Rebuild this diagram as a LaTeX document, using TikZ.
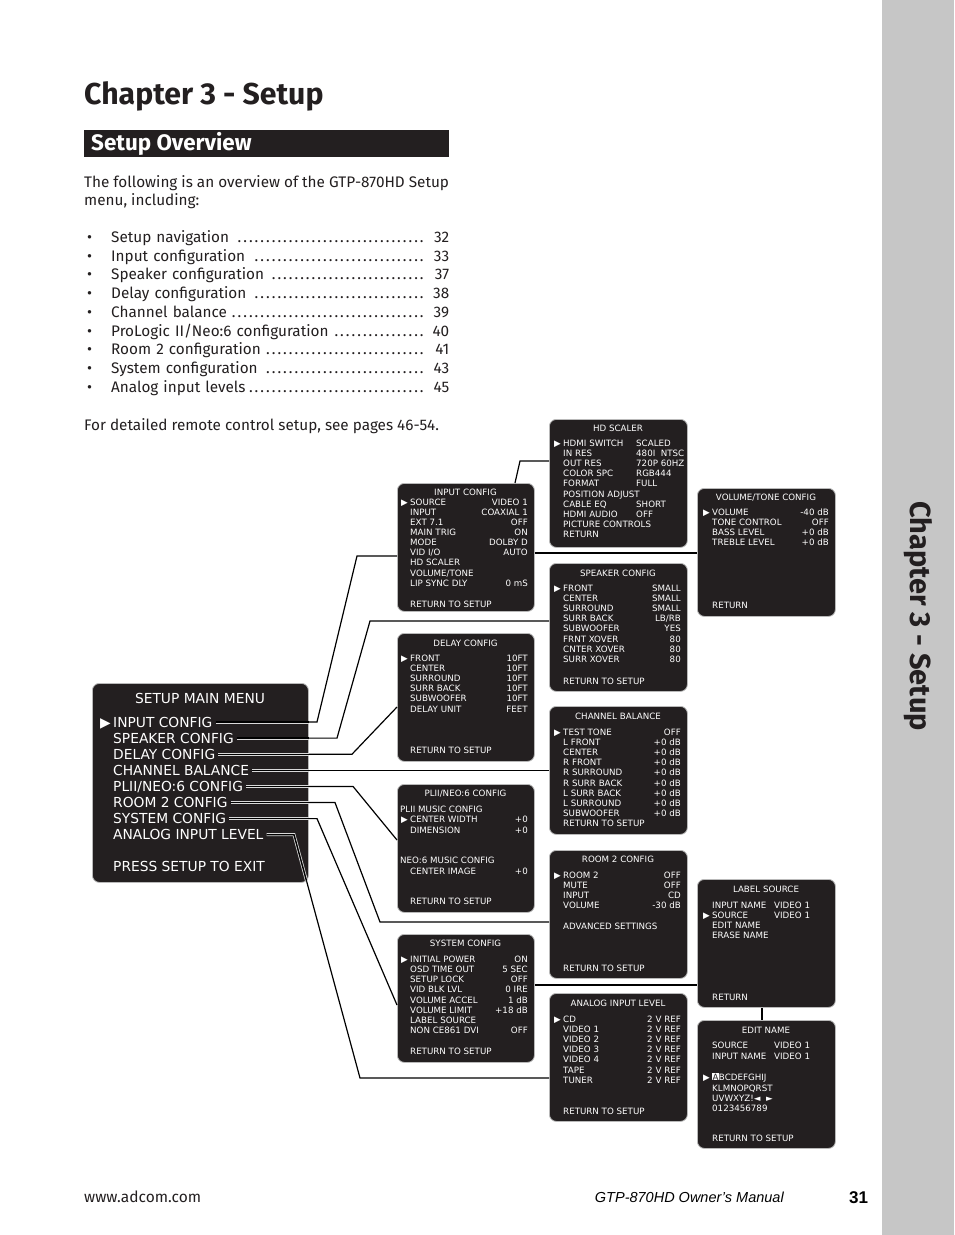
\documentclass[tikz,border=0pt]{standalone}
\usepackage{fontspec}
\setmainfont{Fira Sans}
\newfontfamily\menufont{DejaVu Sans}
\newfontfamily\footfont{Liberation Sans}
\usetikzlibrary{positioning}
\definecolor{boxblack}{HTML}{231F20}
\definecolor{inkblack}{HTML}{231F20}
\definecolor{tabgray}{HTML}{C6C6C6}
\newcommand{\selarrow}{\llap{▶\hspace{2.5pt}}}
\newcommand{\dotlead}{\leaders\hbox to 5.7pt{\hss.\hss}\hfill}
\newcommand{\hilite}[1]{{\fboxsep=0.4pt\colorbox{white}{\textcolor{boxblack}{#1}}}}
\tikzset{
  menubox/.style={
    rectangle,
    rounded corners=7pt,
    draw=gray!55,
    line width=0.8pt,
    fill=boxblack,
    inner sep=0pt,
    anchor=north west
  },
  mtitle/.style={
    text=white,
    font=\menufont\fontsize{8.7}{10}\selectfont,
    inner sep=0pt,
    anchor=base
  },
  mitem/.style={
    mtitle,
    anchor=base west
  },
  mval/.style={
    mtitle,
    anchor=base east
  },
  mainitem/.style={
    text=white,
    font=\menufont\fontsize{13.8}{16}\selectfont,
    inner sep=0pt,
    text height=10pt,
    text depth=0pt,
    anchor=base west
  },
  bodytext/.style={
    text=inkblack,
    font=\fontsize{15.3}{18}\selectfont,
    inner sep=0pt,
    anchor=base west
  },
  link/.style={
    draw=black,
    line width=1.2pt
  },
  dbllink/.style={
    draw=white!85!black,
    double=black,
    double distance=1.4pt,
    line width=0.8pt
  }
}

\begin{document}
\begin{tikzpicture}[x=1pt, y=-1pt]
\useasboundingbox (0,0) rectangle (954,1235);
\fill[white] (0,0) rectangle (954,1235);

% side tab
\fill[tabgray] (882,0) rectangle (954,1235);
\node[rotate=-90, inner sep=0pt, text=inkblack, font=\bfseries\fontsize{29}{29}\selectfont] (tabtitle) at (918,616) {Chapter 3 - Setup};

% heading and overview text
\node[anchor=base west, inner sep=0pt, text=inkblack, font=\bfseries\fontsize{30.2}{31}\selectfont] (chap) at (84,104) {Chapter 3 - Setup};
\node[anchor=north west, fill=boxblack, minimum width=365, minimum height=27, inner sep=0pt] (secbar) at (84,130) {};
\node[anchor=base west, inner sep=0pt, text=white, font=\bfseries\fontsize{22.4}{22}\selectfont] (sectitle) at (91,150) {Setup Overview};
\node[bodytext] (intro1) at (84,187) {The following is an overview of the GTP-870HD Setup};
\node[bodytext] (intro2) at (84,205) {menu, including:};
\foreach \t/\p [count=\i] in {Setup navigation\ /32, Input configuration\ /33,
  Speaker configuration\ /37, Delay configuration\ /38, Channel balance/39,
  {ProLogic II/Neo:6 configuration}/40, Room 2 configuration/41,
  System configuration\ /43, Analog input levels/45}{
  \node[bodytext] (bul\i) at (87,242.5+18.7*\i-18.7) {\textbullet};
  \node[bodytext, text width=338pt] (toc\i) at (111,242.5+18.7*\i-18.7) {\t\dotlead\ \p};
}
\node[bodytext] (remote) at (84,430) {For detailed remote control setup, see pages 46-54.};

% setup main menu
\node[menubox, minimum width=216, minimum height=199] (main) at (92,683) {};
\node[mainitem, anchor=base] (main-t) at (200,703) {SETUP MAIN MENU};
\foreach \l [count=\i] in {\selarrow INPUT CONFIG, SPEAKER CONFIG, DELAY CONFIG,
  CHANNEL BALANCE, PLII/NEO:6 CONFIG, ROOM 2 CONFIG, SYSTEM CONFIG,
  ANALOG INPUT LEVEL}{
  \node[mainitem] (mi\i) at (113,727+16.1*\i-16.1) {\l};
}
\node[mainitem] (main-x) at (113,871) {PRESS SETUP TO EXIT};

% input config
\node[menubox, minimum width=137, minimum height=128] (input) at (397,483) {};
\node[mtitle] (input-t) at (465.5,495) {INPUT CONFIG};
\foreach \l/\v [count=\i] in {\selarrow SOURCE/VIDEO 1, INPUT/COAXIAL 1, EXT 7.1/OFF,
  MAIN TRIG/ON, MODE/DOLBY D, {VID I/O}/AUTO, HD SCALER/{}, {VOLUME/TONE}/{},
  LIP SYNC DLY/0 mS}{
  \node[mitem] (input-l\i) at (410,494.85+10.15*\i) {\l};
  \node[mval] (input-v\i) at (528,494.85+10.15*\i) {\v};
}
\node[mitem] (input-r) at (410,607) {RETURN TO SETUP};

% hd scaler
\node[menubox, minimum width=138, minimum height=128] (hd) at (549,419) {};
\node[mtitle] (hd-t) at (618,431) {HD SCALER};
\foreach \l/\v [count=\i] in {\selarrow HDMI SWITCH/SCALED, IN RES/480I\ \ NTSC,
  OUT RES/720P 60HZ, COLOR SPC/RGB444, FORMAT/FULL, POSITION ADJUST/{},
  CABLE EQ/SHORT, HDMI AUDIO/OFF, PICTURE CONTROLS/{}, RETURN/{}}{
  \node[mitem] (hd-l\i) at (563,435.8+10.2*\i) {\l};
  \node[mitem] (hd-v\i) at (636,435.8+10.2*\i) {\v};
}

% volume/tone config
\node[menubox, minimum width=138, minimum height=128] (vol) at (697,488) {};
\node[mtitle] (vol-t) at (766,500) {VOLUME/TONE CONFIG};
\foreach \l/\v [count=\i] in {\selarrow VOLUME/-40 dB, TONE CONTROL/OFF,
  BASS LEVEL/+0 dB, TREBLE LEVEL/+0 dB}{
  \node[mitem] (vol-l\i) at (712,504.8+10.2*\i) {\l};
  \node[mval] (vol-v\i) at (829,504.8+10.2*\i) {\v};
}
\node[mitem] (vol-r) at (712,608) {RETURN};

% speaker config
\node[menubox, minimum width=138, minimum height=128] (spk) at (549,563) {};
\node[mtitle] (spk-t) at (618,576) {SPEAKER CONFIG};
\foreach \l/\v [count=\i] in {\selarrow FRONT/SMALL, CENTER/SMALL, SURROUND/SMALL,
  SURR BACK/{LB/RB}, SUBWOOFER/YES, FRNT XOVER/80, CNTER XOVER/80, SURR XOVER/80}{
  \node[mitem] (spk-l\i) at (563,580.8+10.2*\i) {\l};
  \node[mval] (spk-v\i) at (681,580.8+10.2*\i) {\v};
}
\node[mitem] (spk-r) at (563,684) {RETURN TO SETUP};

% delay config
\node[menubox, minimum width=137, minimum height=128] (delay) at (397,633) {};
\node[mtitle] (delay-t) at (465.5,646) {DELAY CONFIG};
\foreach \l/\v [count=\i] in {\selarrow FRONT/10FT, CENTER/10FT, SURROUND/10FT,
  SURR BACK/10FT, SUBWOOFER/10FT, DELAY UNIT/FEET}{
  \node[mitem] (delay-l\i) at (410,650.8+10.2*\i) {\l};
  \node[mval] (delay-v\i) at (528,650.8+10.2*\i) {\v};
}
\node[mitem] (delay-r) at (410,753) {RETURN TO SETUP};

% channel balance
\node[menubox, minimum width=138, minimum height=128] (chan) at (549,706) {};
\node[mtitle] (chan-t) at (618,719) {CHANNEL BALANCE};
\foreach \l/\v [count=\i] in {\selarrow TEST TONE/OFF, L FRONT/+0 dB, CENTER/+0 dB,
  R FRONT/+0 dB, R SURROUND/+0 dB, R SURR BACK/+0 dB, L SURR BACK/+0 dB,
  L SURROUND/+0 dB, SUBWOOFER/+0 dB, RETURN TO SETUP/{}}{
  \node[mitem] (chan-l\i) at (563,724.8+10.2*\i) {\l};
  \node[mval] (chan-v\i) at (681,724.8+10.2*\i) {\v};
}

% plii/neo:6 config
\node[menubox, minimum width=137, minimum height=128] (pl) at (397,784) {};
\node[mtitle] (pl-t) at (465.5,796) {PLII/NEO:6 CONFIG};
\node[mitem] (pl-h1) at (400,812) {PLII MUSIC CONFIG};
\node[mitem] (pl-l1) at (410,822) {\selarrow CENTER WIDTH};
\node[mval] (pl-v1) at (528,822) {+0};
\node[mitem] (pl-l2) at (410,833) {DIMENSION};
\node[mval] (pl-v2) at (528,833) {+0};
\node[mitem] (pl-h2) at (400,863) {NEO:6 MUSIC CONFIG};
\node[mitem] (pl-l3) at (410,874) {CENTER IMAGE};
\node[mval] (pl-v3) at (528,874) {+0};
\node[mitem] (pl-r) at (410,904) {RETURN TO SETUP};

% room 2 config
\node[menubox, minimum width=138, minimum height=128] (room) at (549,850) {};
\node[mtitle] (room-t) at (618,862) {ROOM 2 CONFIG};
\foreach \l/\v [count=\i] in {\selarrow ROOM 2/OFF, MUTE/OFF, INPUT/CD, VOLUME/-30 dB}{
  \node[mitem] (room-l\i) at (563,867.7+10.3*\i) {\l};
  \node[mval] (room-v\i) at (681,867.7+10.3*\i) {\v};
}
\node[mitem] (room-a) at (563,929) {ADVANCED SETTINGS};
\node[mitem] (room-r) at (563,971) {RETURN TO SETUP};

% system config
\node[menubox, minimum width=137, minimum height=128] (sys) at (397,934) {};
\node[mtitle] (sys-t) at (465.5,946) {SYSTEM CONFIG};
\foreach \l/\v [count=\i] in {\selarrow INITIAL POWER/ON, OSD TIME OUT/5 SEC,
  SETUP LOCK/OFF, VID BLK LVL/0 IRE, VOLUME ACCEL/1 dB, VOLUME LIMIT/+18 dB,
  LABEL SOURCE/{}, NON CE861 DVI/OFF}{
  \node[mitem] (sys-l\i) at (410,951.75+10.25*\i) {\l};
  \node[mval] (sys-v\i) at (528,951.75+10.25*\i) {\v};
}
\node[mitem] (sys-r) at (410,1054) {RETURN TO SETUP};

% analog input level
\node[menubox, minimum width=138, minimum height=128] (analog) at (549,993) {};
\node[mtitle] (analog-t) at (618,1006) {ANALOG INPUT LEVEL};
\foreach \l [count=\i] in {\selarrow CD, VIDEO 1, VIDEO 2, VIDEO 3, VIDEO 4, TAPE, TUNER}{
  \node[mitem] (analog-l\i) at (563,1011.8+10.2*\i) {\l};
  \node[mval] (analog-v\i) at (681,1011.8+10.2*\i) {2 V REF};
}
\node[mitem] (analog-r) at (563,1114) {RETURN TO SETUP};

% label source
\node[menubox, minimum width=138, minimum height=128] (label) at (697,879) {};
\node[mtitle] (label-t) at (766,892) {LABEL SOURCE};
\foreach \l/\v [count=\i] in {INPUT NAME/VIDEO 1, \selarrow SOURCE/VIDEO 1,
  EDIT NAME/{}, ERASE NAME/{}}{
  \node[mitem] (label-l\i) at (712,897.7+10.3*\i) {\l};
  \node[mitem] (label-v\i) at (774,897.7+10.3*\i) {\v};
}
\node[mitem] (label-r) at (712,1000) {RETURN};

% edit name
\node[menubox, minimum width=138, minimum height=128] (edit) at (697,1020) {};
\node[mtitle] (edit-t) at (766,1033) {EDIT NAME};
\node[mitem] (edit-l1) at (712,1048) {SOURCE};
\node[mitem] (edit-v1) at (774,1048) {VIDEO 1};
\node[mitem] (edit-l2) at (712,1059) {INPUT NAME};
\node[mitem] (edit-v2) at (774,1059) {VIDEO 1};
\node[mitem] (edit-c1) at (712,1080) {\selarrow\hilite{A}BCDEFGHIJ};
\node[mitem] (edit-c2) at (712,1091) {KLMNOPQRST};
\node[mitem] (edit-c3) at (712,1101) {UVWXYZ!◄\ \ ►};
\node[mitem] (edit-c4) at (712,1111) {0123456789};
\node[mitem] (edit-r) at (712,1141) {RETURN TO SETUP};

% connectors
\draw[link] ([xshift=3]mi1.east) -- (mi1.east -| 317,0) -- (357,556) -- (input.west |- 0,556);
\draw[link] ([xshift=3]mi2.east) -- (mi2.east -| 337,0) -- (370,621) -- (spk.west |- 0,621);
\draw[link] ([xshift=3]mi3.east) -- (mi3.east -| 352,0) -- (delay.west |- 0,707);
\draw[link] ([xshift=3]mi4.east) -- (chan.west |- mi4.east);
\draw[link] ([xshift=3]mi5.east) -- (mi5.east -| 353,0) -- (pl.west |- 0,840);
\draw[link] ([xshift=3]mi6.east) -- (mi6.east -| 335,0) -- (380,922) -- (room.west |- 0,922);
\draw[link] ([xshift=3]mi7.east) -- (mi7.east -| 317,0) -- (sys.west |- 0,1005);
\draw[link] ([xshift=3]mi8.east) -- (mi8.east -| 294,0) -- (360,1078) -- (analog.west |- 0,1078);
\draw[link] (input.north -| 515,0) -- (520,461) -- (hd.west |- 0,461);
\draw[link] (input.east |- 0,553) -- (vol.west |- 0,553);
\draw[link] (sys.east |- 0,985) -- (label.west |- 0,985);
\draw[link] (label.south -| 762,0) -- (edit.north -| 762,0);
\begin{scope}
  \clip[rounded corners=7pt] (main.south west) rectangle (main.north east);
  \foreach \i in {1,...,7}
    \draw[dbllink] ([xshift=3]mi\i.east) -- ++(220,0);
  \draw[dbllink] ([xshift=3]mi8.east) -- (mi8.east -| 294,0) -- (360,1078);
\end{scope}

% footer
\node[bodytext, font=\fontsize{15.5}{15}\selectfont] (url) at (84,1202) {www.adcom.com};
\node[anchor=base east, inner sep=0pt, font=\footfont\itshape\fontsize{14.5}{14.5}\selectfont] (manual) at (784,1202) {GTP-870HD Owner’s Manual};
\node[anchor=base west, inner sep=0pt, font=\footfont\bfseries\fontsize{17}{17}\selectfont] (pagenum) at (849,1203) {31};
\end{tikzpicture}
\end{document}
